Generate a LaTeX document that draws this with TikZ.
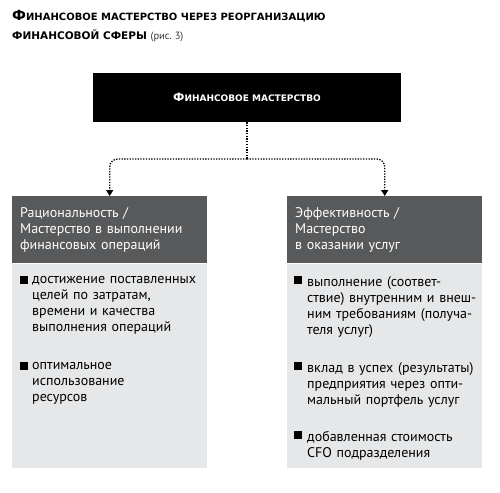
\documentclass[tikz,border=0pt]{standalone}
\usepackage{fontspec}
\setmainfont{PT Sans}
\newfontfamily\titlefont{DejaVu Sans}
\usetikzlibrary{arrows.meta}
\definecolor{hdr}{HTML}{58595B}
\definecolor{bodyg}{HTML}{E6E7E8}
\definecolor{captiong}{HTML}{333333}
\newcommand\bigL[1]{{\fontsize{14}{14}\selectfont #1}}
\begin{document}
\begin{tikzpicture}[x=1pt,y=-1pt,
  titletext/.style={anchor=base west, inner sep=0, font=\titlefont\bfseries\fontsize{10}{13}\selectfont},
  topbox/.style={fill=black, text=white, minimum width=308pt, minimum height=49pt, inner sep=0, font=\titlefont\bfseries\fontsize{9}{10}\selectfont},
  hdrbox/.style={fill=hdr, text=white, anchor=north west, minimum width=195pt, minimum height=67pt, text width=179pt, inner xsep=8pt, inner ysep=0pt, align=left, font=\fontsize{14}{16}\selectfont},
  bodybox/.style={fill=bodyg, anchor=north west, minimum width=195pt, minimum height=204pt, inner sep=0pt},
  item/.style={anchor=north west, text width=172pt, align=left, inner sep=0pt, font=\fontsize{14}{16}\selectfont},
  sq/.style={fill=black, minimum size=7.5pt, inner sep=0pt},
  conn/.style={line width=1.3pt, dash pattern=on 1.3pt off 1.4pt, rounded corners=8pt},
  tip/.style={-{Triangle[width=7pt,length=6pt]}}
]
\useasboundingbox (0,0) rectangle (500,492);
% title
\node[titletext] (t1) at (12,21) {\bigL{Ф}ИНАНСОВОЕ МАСТЕРСТВО ЧЕРЕЗ РЕОРГАНИЗАЦИЮ};
\node[titletext, font=\titlefont\bfseries\fontsize{10.5}{13}\selectfont] (t2) at (12,39.5) {ФИНАНСОВОЙ СФЕРЫ {\color{captiong}\normalfont\mdseries\rmfamily\fontsize{10.5}{12}\selectfont (рис.~3)}};
% top box
\node[topbox] (top) at (247,97.5) {{\fontsize{11.5}{11}\selectfont Ф}ИНАНСОВОЕ МАСТЕРСТВО};
% left column
\node[hdrbox] (lhead) at (12,196) {Рациональность /\\Мастерство в выполнении\\финансовых операций};
\node[bodybox] (lbody) at (lhead.south west) {};
\node[sq] (lsq1) at (24,280) {};
\node[item] (lit1) at (32,276) {достижение поставленных\\целей по затратам,\\времени и качества\\выполнения операций};
\node[sq] (lsq2) at (24,366) {};
\node[item] (lit2) at (32,362) {оптимальное\\использование\\ресурсов};
% right column
\node[hdrbox] (rhead) at (287,196) {Эффективность /\\Мастерство\\в оказании услуг};
\node[bodybox] (rbody) at (rhead.south west) {};
\node[sq] (rsq1) at (298,280) {};
\node[item] (rit1) at (307,276) {выполнение (соответ-\\ствие) внутренним и внеш-\\ним требованиям (получа-\\теля услуг)};
\node[sq] (rsq2) at (298,366) {};
\node[item] (rit2) at (307,362) {вклад в успех (результаты)\\предприятия через опти-\\мальный портфель услуг};
\node[sq] (rsq3) at (298,435) {};
\node[item] (rit3) at (307,431) {добавленная стоимость\\CFO подразделения};
% connectors
\coordinate (split) at (top.south |- 0,159);
\draw[conn] (top.south) -- (split);
\draw[conn,tip] (split) -| (lhead.north);
\draw[conn,tip] (split) -| (rhead.north);
\end{tikzpicture}
\end{document}
